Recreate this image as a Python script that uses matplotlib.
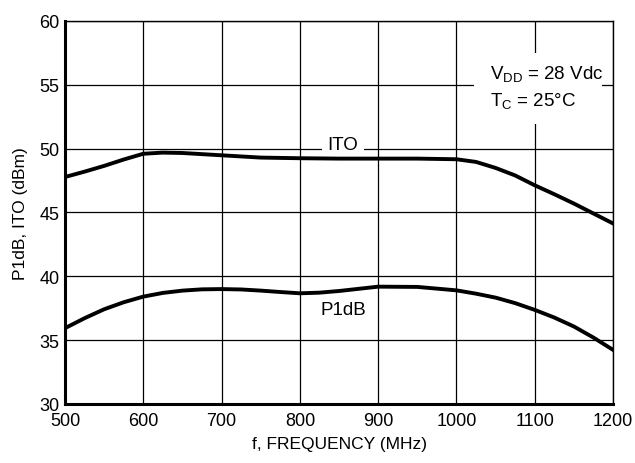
import matplotlib
matplotlib.use("Agg")
import matplotlib.pyplot as plt
from matplotlib.patches import Rectangle

# data
freq = [500, 525, 550, 575, 600, 625, 650, 700, 750, 800, 850, 900, 950,
        1000, 1025, 1050, 1075, 1100, 1125, 1150, 1175, 1200]
ito = [47.78, 48.2, 48.65, 49.15, 49.6, 49.69, 49.66, 49.48, 49.3, 49.25, 49.22, 49.22, 49.22,
       49.17, 48.96, 48.49, 47.9, 47.13, 46.43, 45.7, 44.92, 44.14]
p1db_freq = [500, 525, 550, 575, 600, 625, 650, 675, 700, 725, 750, 775, 800, 825, 850,
             900, 950, 1000, 1025, 1050, 1075, 1100, 1125, 1150, 1175, 1200]
p1db = [35.94, 36.72, 37.42, 37.97, 38.41, 38.7, 38.88, 38.98, 39.0, 38.97, 38.88, 38.77, 38.67, 38.72, 38.85,
        39.19, 39.17, 38.9, 38.64, 38.33, 37.9, 37.37, 36.77, 36.07, 35.2, 34.24]

x_ticks = [500, 600, 700, 800, 900, 1000, 1100, 1200]
y_ticks = [30, 35, 40, 45, 50, 55, 60]

plt.rcParams["font.family"] = ["Liberation Sans Narrow", "Liberation Sans", "DejaVu Sans"]
plt.rcParams["mathtext.default"] = "regular"

fig = plt.figure(figsize=(6.35, 4.64), dpi=100)
ax = fig.add_axes([0.1024, 0.1272, 0.863, 0.8254])

ax.plot(freq, ito, color="black", linewidth=2.8, solid_joinstyle="round", zorder=3)
ax.plot(p1db_freq, p1db, color="black", linewidth=2.8, solid_joinstyle="round", zorder=3)

ax.set_xlim(500, 1200)
ax.set_ylim(30, 60)
ax.set_xticks(x_ticks)
ax.set_yticks(y_ticks)
ax.tick_params(length=0, labelsize=13)
ax.tick_params(axis="x", pad=6)
ax.tick_params(axis="y", pad=4)
ax.grid(True, color="black", linewidth=0.9)
ax.set_axisbelow(True)

for side in ["left", "bottom"]:
    ax.spines[side].set_linewidth(2.2)
for side in ["top", "right"]:
    ax.spines[side].set_linewidth(1.0)

ax.set_xlabel("f, FREQUENCY (MHz)", fontsize=12.5, labelpad=5)
ax.set_ylabel("P1dB, ITO (dBm)", fontsize=12.5, labelpad=8)

# labels on the curves
ax.text(855, 50.3, "ITO", fontsize=13.5, ha="center", va="center",
        bbox=dict(facecolor="white", edgecolor="none", pad=4), zorder=2)
ax.text(856, 37.4, "P1dB", fontsize=13.5, ha="center", va="center", zorder=2)

# conditions box, blanks out the grid behind it
ax.add_patch(Rectangle((1023, 51.9), 163, 5.6, facecolor="white",
                       edgecolor="none", zorder=1))
ax.text(1043, 55.95, "$V_{DD}$ = 28 Vdc", fontsize=13.5, ha="left", va="center", zorder=2)
ax.text(1043, 53.85, "$T_C$ = 25°C", fontsize=13.5, ha="left", va="center", zorder=2)

fig.savefig("out.png", dpi=100)
